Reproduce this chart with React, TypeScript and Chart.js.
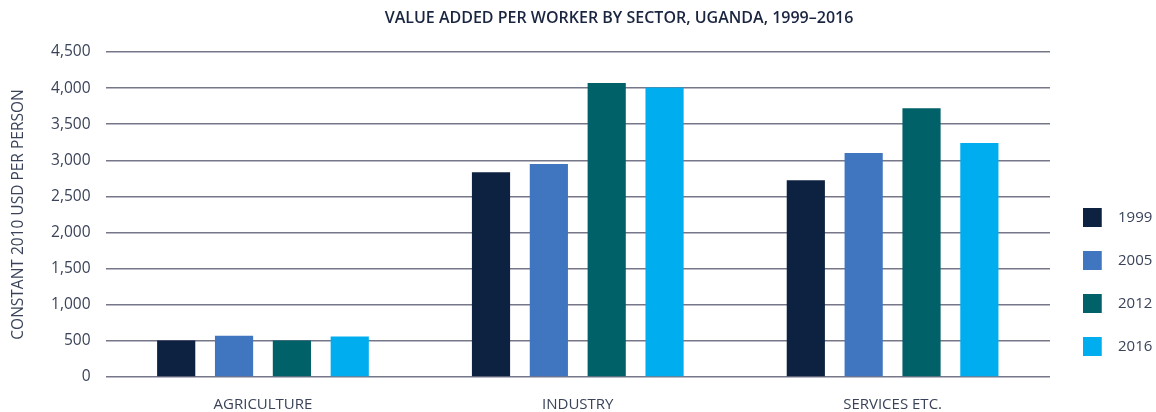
import React, { useEffect, useRef } from "react";
import { Chart, registerables } from "chart.js";

Chart.register(...registerables);

const categories = ["AGRICULTURE", "INDUSTRY", "SERVICES ETC."];
const years = ["1999", "2005", "2012", "2016"];
const values1999 = [505, 2835, 2725];
const values2005 = [570, 2950, 3100];
const values2012 = [505, 4070, 3720];
const values2016 = [560, 4010, 3240];
const colors = ["#0d2240", "#3f76bf", "#006168", "#00aeef"];
const yTicks = [0, 500, 1000, 1500, 2000, 2500, 3000, 3500, 4000, 4500];
const titleText = "VALUE ADDED PER WORKER BY SECTOR, UGANDA, 1999–2016";

const FONT = "'Open Sans', 'Noto Sans', sans-serif";

function makeSwatch(color: string) {
  const c = document.createElement("canvas");
  c.width = 28;
  c.height = 19;
  const g = c.getContext("2d")!;
  g.fillStyle = color;
  g.fillRect(0, 0, 19, 19);
  return c;
}

const titlePlugin = {
  id: "customTitle",
  afterLayout(chart: any) {
    const lg = chart.legend;
    if (lg) {
      lg.left += 5;
      lg.right += 20;
      lg.top += 5;
      lg.bottom += 5;
    }
  },
  afterDraw(chart: any) {
    const ctx = chart.ctx;
    ctx.save();
    ctx.font = `600 16px ${FONT}`;
    ctx.fillStyle = "#1a2540";
    ctx.textAlign = "center";
    ctx.textBaseline = "middle";
    ctx.fillText(titleText, 619, 18);
    ctx.restore();
  },
};

export default function App() {
  const ref = useRef<HTMLCanvasElement | null>(null);
  useEffect(() => {
    document.body.style.margin = "0";
    const series = [values1999, values2005, values2012, values2016];
    const swatches = colors.map(makeSwatch);
    const chart = new Chart(ref.current!, {
      type: "bar",
      data: {
        labels: categories,
        datasets: years.map((y, i) => ({
          label: y,
          data: series[i],
          backgroundColor: colors[i],
          categoryPercentage: 0.735,
          barPercentage: 0.66,
        })),
      },
      plugins: [titlePlugin],
      options: {
        animation: false,
        responsive: false,
        maintainAspectRatio: false,
        layout: { padding: { top: 52, right: 11, left: 5, bottom: 0 } },
        plugins: {
          title: { display: false },
          legend: {
            position: "right",
            align: "end",
            fullSize: false,
            maxWidth: 95,
            labels: {
              usePointStyle: true,
              pointStyleWidth: 27.5,
              boxWidth: 19,
              boxHeight: 19,
              padding: 28,
              color: "#3a4359",
              font: { family: FONT, size: 15 },
              generateLabels: (ch: any) => {
                const items = Chart.defaults.plugins.legend.labels.generateLabels(ch);
                items.forEach((it: any, i: number) => {
                  it.pointStyle = swatches[i];
                });
                return items;
              },
            },
          },
          tooltip: { enabled: false },
        },
        scales: {
          x: {
            afterFit: (s: any) => {
              s.height = 35;
            },
            grid: { display: false, drawTicks: false },
            border: { display: false },
            ticks: {
              color: "#3a4359",
              font: { family: FONT, size: 15, lineHeight: 1 },
              padding: 20,
            },
          },
          y: {
            min: 0,
            max: 4500,
            afterBuildTicks: (axis: any) => {
              axis.ticks = yTicks.map((v) => ({ value: v }));
            },
            grid: { color: "#767789", lineWidth: 1.5, drawTicks: false },
            border: { display: false },
            ticks: {
              color: "#3a4359",
              font: { family: FONT, size: 15.5 },
              padding: 15,
              callback: (v: any) => Number(v).toLocaleString("en-US"),
            },
            title: {
              display: true,
              text: "CONSTANT 2010 USD PER PERSON",
              color: "#3a4359",
              font: { family: FONT, size: 15.5, lineHeight: 1.2 },
              padding: { top: 4, bottom: 8.5 },
            },
          },
        },
      },
    });
    return () => chart.destroy();
  }, []);
  return (
    <div style={{ width: 1156, height: 412 }}>
      <canvas ref={ref} width={1156} height={412} />
    </div>
  );
}
